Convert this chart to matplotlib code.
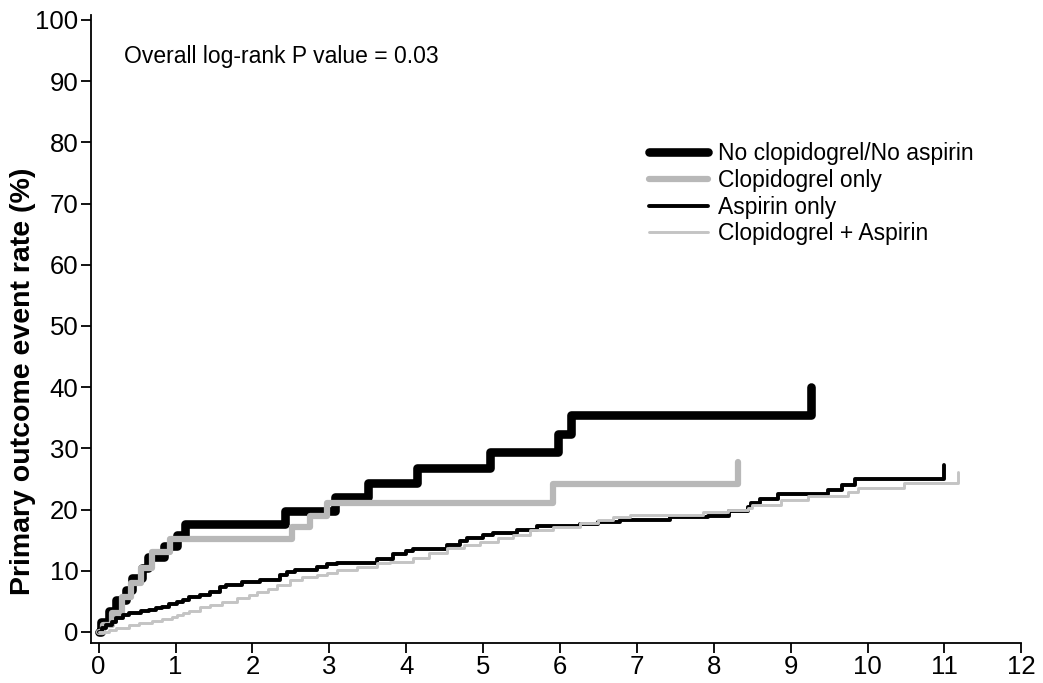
import matplotlib
matplotlib.use("Agg")
import matplotlib.pyplot as plt

plt.rcParams['font.family'] = ['Liberation Sans', 'DejaVu Sans']

# Series: (time in years, cumulative event rate %) at each step
none_t = [0, 0.03, 0.13, 0.23, 0.36, 0.43, 0.57, 0.64, 0.85, 1.02, 1.12, 2.42, 3.08, 3.50, 4.14, 5.09, 5.98, 6.14, 9.27]
none_v = [0, 1.7, 3.4, 5.2, 6.9, 8.8, 10.5, 12.2, 14.0, 15.8, 17.6, 19.8, 22.1, 24.3, 26.8, 29.4, 32.3, 35.4, 40.0]

clop_t = [0, 0.06, 0.17, 0.30, 0.42, 0.55, 0.69, 0.93, 2.51, 2.75, 2.97, 5.91, 8.31]
clop_v = [0, 1.1, 3.1, 5.7, 8.0, 10.4, 13.1, 15.2, 17.2, 19.0, 21.1, 24.2, 27.8]

asp_t = [0, 0.05, 0.10, 0.18, 0.23, 0.32, 0.40, 0.55, 0.66, 0.75, 0.83, 0.92, 1.02, 1.10, 1.18,
         1.32, 1.45, 1.58, 1.65, 1.86, 2.10, 2.36, 2.45, 2.55, 2.84, 2.97, 3.10, 3.62, 3.83, 4.00,
         4.09, 4.53, 4.70, 4.79, 5.00, 5.13, 5.44, 5.70, 6.26, 6.50, 6.78, 7.43, 7.92, 8.20, 8.44,
         8.48, 8.60, 8.83, 9.49, 9.67, 9.84, 10.99]
asp_v = [0, 0.6, 1.1, 1.7, 2.3, 2.8, 3.1, 3.4, 3.6, 3.9, 4.1, 4.5, 4.9, 5.3, 5.7,
         6.1, 6.5, 7.4, 7.7, 8.2, 8.5, 9.3, 9.8, 10.1, 10.6, 11.1, 11.3, 12.0, 12.7, 13.2,
         13.6, 14.2, 14.8, 15.3, 15.8, 16.1, 16.6, 17.3, 17.6, 18.0, 18.3, 18.8, 19.0, 19.8, 20.4,
         21.1, 21.7, 22.5, 23.2, 24.0, 25.0, 27.3]

both_t = [0, 0.14, 0.23, 0.40, 0.53, 0.70, 0.83, 0.95, 1.02, 1.10, 1.18, 1.32, 1.45, 1.61, 1.80,
          1.95, 2.06, 2.20, 2.32, 2.49, 2.65, 2.84, 2.97, 3.10, 3.36, 3.62, 3.79, 4.09, 4.30, 4.53,
          4.75, 4.96, 5.20, 5.39, 5.61, 5.91, 6.26, 6.50, 6.69, 6.91, 7.86, 8.18, 8.44, 8.50, 8.87,
          9.22, 9.74, 9.87, 10.47, 11.18]
both_v = [0, 0.3, 0.6, 1.1, 1.5, 1.8, 2.1, 2.5, 2.8, 3.1, 3.4, 4.0, 4.4, 4.9, 5.5,
          6.0, 6.5, 7.1, 7.7, 8.5, 8.9, 9.3, 9.7, 10.1, 10.6, 11.3, 11.5, 12.1, 12.9, 13.7,
          14.2, 14.7, 15.3, 15.8, 16.7, 17.2, 17.8, 18.3, 18.8, 19.1, 19.6, 19.9, 20.3, 20.8, 21.6,
          22.2, 22.9, 23.5, 24.3, 26.1]

labels = ["No clopidogrel/No aspirin", "Clopidogrel only", "Aspirin only", "Clopidogrel + Aspirin"]
xticks = list(range(0, 13))
yticks = list(range(0, 101, 10))

fig = plt.figure(figsize=(10.43, 6.83), dpi=100)
ax = fig.add_axes([0.0872, 0.0586, 0.892, 0.9194])

ax.plot(none_t, none_v, drawstyle='steps-post', color='black', lw=6.2,
        solid_capstyle='round', label=labels[0])
ax.plot(clop_t, clop_v, drawstyle='steps-post', color='#b8b8b8', lw=4.5,
        solid_capstyle='round', label=labels[1])
ax.plot(asp_t, asp_v, drawstyle='steps-post', color='black', lw=2.8,
        solid_capstyle='round', label=labels[2])
ax.plot(both_t, both_v, drawstyle='steps-post', color='#c4c4c4', lw=2.1,
        solid_capstyle='round', label=labels[3])

ax.set_xlim(-0.1, 12.0)
ax.set_ylim(-1.8, 100.8)
ax.set_xticks(xticks)
ax.set_yticks(yticks)
ax.tick_params(axis='both', labelsize=18.5, length=7, width=1.3, direction='out', pad=2)
for s in ['top', 'right']:
    ax.spines[s].set_visible(False)
for s in ['left', 'bottom']:
    ax.spines[s].set_linewidth(1.3)

ax.set_ylabel("Primary outcome event rate (%)", fontsize=20.5, fontweight='bold')
ax.yaxis.set_label_coords(-0.059, 0.416)

ax.text(0.33, 94, "Overall log-rank P value = 0.03", fontsize=16.5, va='center', ha='left')

leg = ax.legend(loc='upper left', bbox_to_anchor=(0.5996, 0.797), frameon=False,
                fontsize=16.5, handlelength=2.6, handletextpad=0.44, labelspacing=0.16,
                borderaxespad=0, borderpad=0)

fig.savefig("out.png", dpi=100)
